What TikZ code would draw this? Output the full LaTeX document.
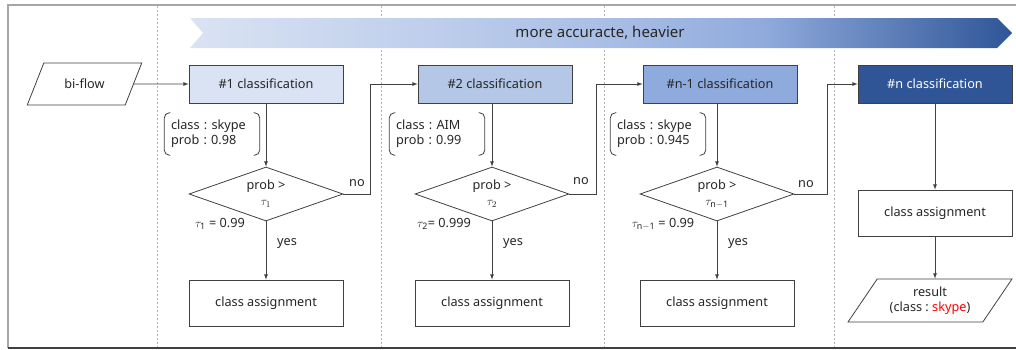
\documentclass[tikz,border=0pt]{standalone}
\usepackage{fontspec}
\setmainfont{Noto Sans}
\usepackage{amsmath}
\usetikzlibrary{shapes.geometric,calc}
\definecolor{bleuA}{HTML}{DAE3F3}
\definecolor{bleuB}{HTML}{B4C7E7}
\definecolor{bleuC}{HTML}{8FAADC}
\definecolor{bleuD}{HTML}{2F5597}
\definecolor{bleuM}{HTML}{AABFE6}
\definecolor{gris}{HTML}{404040}
\definecolor{texte}{HTML}{262626}
\pgfdeclarehorizontalshading{precision}{100bp}{color(0bp)=(bleuA); color(25bp)=(bleuA); color(50bp)=(bleuM); color(60bp)=(bleuC); color(75bp)=(bleuD); color(100bp)=(bleuD)}
\newcommand{\Crochets}[1]{\draw[trait,rounded corners=5pt] ([xshift=6pt]#1.north west) -- (#1.north west) -- (#1.south west) -- ([xshift=6pt]#1.south west);
	\draw[trait,rounded corners=5pt] ([xshift=-6pt]#1.north east) -- (#1.north east) -- (#1.south east) -- ([xshift=-6pt]#1.south east)}
\frenchspacing

\begin{document}
\begin{tikzpicture}[x=1pt,y=-1pt,font=\fontsize{12.7}{15}\selectfont,text=texte,
	trait/.style={draw=gris,line width=0.8pt},
	fleche/.style={trait,-latex},
	classif/.style={trait,minimum width=154pt,minimum height=38pt},
	affect/.style={trait,minimum width=154pt,minimum height=46pt},
	test/.style={trait,diamond,aspect=2.85,minimum width=154pt,minimum height=54pt,inner sep=0pt,align=center,font=\fontsize{12.7}{17}\selectfont},
	entree/.style={trait,trapezium,trapezium left angle=#1,trapezium right angle=180-#1,trapezium stretches=true,align=center},
	paire/.style={align=left,inner sep=3pt,minimum width=95pt,minimum height=42pt,text width=82pt}]
	\def\yC{84}
	\def\yT{194}
	\def\yA{303}
	\useasboundingbox (0,0) rectangle (1016,349);
	
	%Cadre et colonnes
	\draw[gray!70,line width=1.2pt] (1016,5) -- (8,5) -- (8,348);
	\draw[gris,line width=1.2pt] (8,348) -- (1016,348);
	\foreach \x in {157,381,604,834}
		\draw[gray!60,line width=0.6pt,dash pattern=on 2pt off 2pt] (\x,6) -- (\x,347);
	
	%Bandeau
	\shade[shading=precision] (190,18) -- (997,18) -- (1012,33) -- (997,48) -- (190,48) -- (203,33) -- cycle;
	\node[font=\fontsize{15}{18}\selectfont] (bandeau) at (600,33) {more accuracte, heavier};
	
	%Entree et classifications
	\node[entree=60,minimum width=115pt,minimum height=42pt] (flux) at (84.5,84) {bi-flow};
	\node[classif,fill=bleuA] (c1) at (266,\yC) {\#1 classification};
	\node[classif,fill=bleuB] (c2) at (495,\yC) {\#2 classification};
	\node[classif,fill=bleuC] (c3) at (720,\yC) {\#n-1 classification};
	\node[classif,fill=bleuD,text=white] (c4) at (935,\yC) {\#n classification};
	
	%Sorties de classifieurs
	\node[paire] (p1) at (212,134) {class : skype\\prob : 0.98};
	\node[paire] (p2) at (437,134) {class : AIM\\prob : 0.99};
	\node[paire] (p3) at (658,134) {class : skype\\prob : 0.945};
	\foreach \p in {p1,p2,p3}{\Crochets{\p};}
	
	%Tests de seuil
	\node[test] (t1) at (266,\yT) {prob >\\[-1pt]$\tau_1$};
	\node[test] (t2) at (492,\yT) {prob >\\[-1pt]$\tau_2$};
	\node[test] (t3) at (717,\yT) {prob >\\[-1pt]$\tau_{\mathbf{n-1}}$};
	\node (s1) at (220,224) {$\tau_{\mathbf{1}}$ = 0.99};
	\node (s2) at (444,224) {$\tau_{\mathbf{2}}$= 0.999};
	\node (s3) at (663,224) {$\tau_{\mathbf{n-1}}$ = 0.99};
	
	%Affectations
	\node[affect] (a1) at (266,\yA) {class assignment};
	\node[affect] (a2) at (492,\yA) {class assignment};
	\node[affect] (a3) at (717,\yA) {class assignment};
	\node[affect] (a4) at (935,213) {class assignment};
	\node[entree=52,minimum width=164pt,minimum height=43pt,inner sep=1pt,font=\fontsize{12.7}{14.5}\selectfont] (res) at (930,300.5) {result\\(class : \textcolor{red}{skype})};
	
	%Etiquettes
	\node (n1) at (357,183) {no};
	\node (n2) at (581,181) {no};
	\node (n3) at (806,184) {no};
	\node (o1) at (287,244) {yes};
	\node (o2) at (513,244) {yes};
	\node (o3) at (738,244) {yes};
	
	%Fleches
	\coordinate (r1) at (370,\yT);
	\coordinate (r2) at (596,\yT);
	\coordinate (r3) at (827,\yT);
	\draw[fleche] (flux) -- (c1);
	\draw[fleche] (c1) -- (t1);
	\draw[fleche] (t2 |- c2.south) -- (t2);
	\draw[fleche] (t3 |- c3.south) -- (t3);
	\draw[fleche] (c4) -- (a4);
	\draw[fleche] (a4) -- (a4 |- res.north);
	\draw[fleche] (t1.east) -- (r1) |- (c2.west);
	\draw[fleche] (t2.east) -- (r2) |- (c3.west);
	\draw[fleche] (t3.east) -- (r3) |- (c4.west);
	\foreach \i in {1,2,3}
		\draw[fleche] (t\i) -- (a\i);
	
\end{tikzpicture}
\end{document}
